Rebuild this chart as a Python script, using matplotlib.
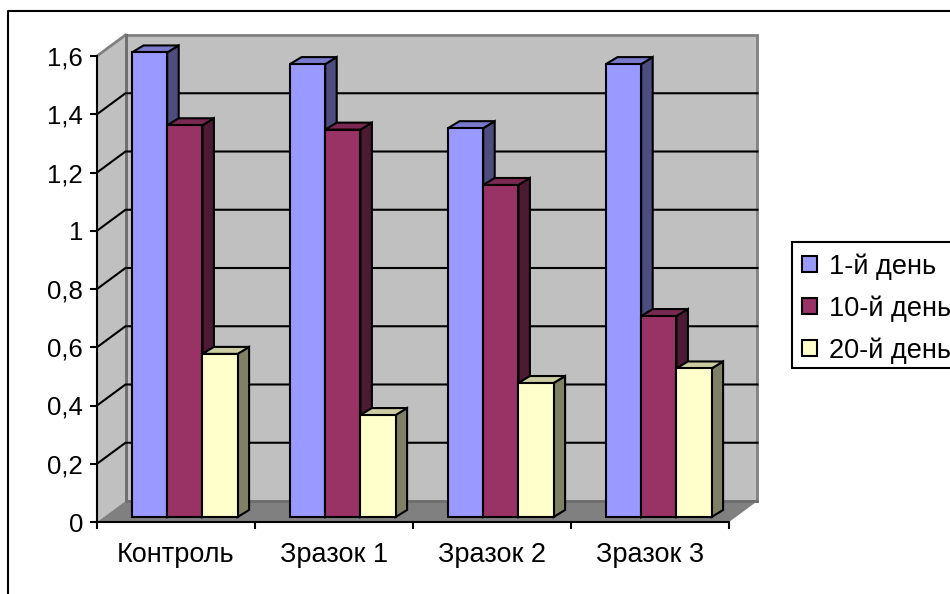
import numpy as np
from matplotlib import pyplot as plt
from matplotlib.lines import Line2D
from matplotlib.patches import Patch, Rectangle

plt.rcParams['font.family'] = ['Liberation Sans', 'DejaVu Sans']

categories = ["Контроль", "Зразок 1", "Зразок 2", "Зразок 3"]
day_1 = [1.595, 1.555, 1.335, 1.555]
day_10 = [1.345, 1.33, 1.14, 0.69]
day_20 = [0.56, 0.35, 0.46, 0.51]
series_names = ["1-й день", "10-й день", "20-й день"]
y_ticks = [0, 0.2, 0.4, 0.6, 0.8, 1, 1.2, 1.4, 1.6]
y_labels = ["0", "0,2", "0,4", "0,6", "0,8", "1", "1,2", "1,4", "1,6"]

front = ['#9999FF', '#993366', '#FFFFCC']
side = ['#4D4D80', '#4D1A33', '#808066']
top = ['#7A7ACC', '#7A2952', '#CCCCA3']

W, H = 950, 594
fig = plt.figure(figsize=(W / 100, H / 100), dpi=100)
ax = fig.add_axes([97 / W, (H - 522) / H, 632 / W, 466 / H])
ax.set_xlim(0, 4)
ax.set_ylim(0, 1.6)
ax.patch.set_visible(False)

# pixel sizes turned into data units for the fake 3d look
px_x = 4 / 632
px_y = 1.6 / 466
wall_dx, wall_dy = 28.5 * px_x, 21 * px_y
shift_x, shift_y = 7 * px_x, 5 * px_y
bar_dx, bar_dy = 11.5 * px_x, 7 * px_y
bar_w = 35.2 * px_x
gap = 28 * px_x

# walls and floor
ax.fill([0, wall_dx, wall_dx, 0], [0, wall_dy, 1.6 + wall_dy, 1.6], color='#C0C0C0', lw=0, clip_on=False, zorder=1)
ax.fill([wall_dx, 4 + wall_dx, 4 + wall_dx, wall_dx], [wall_dy, wall_dy, 1.6 + wall_dy, 1.6 + wall_dy],
        facecolor='#C0C0C0', edgecolor='#808080', lw=2, clip_on=False, zorder=1)
ax.fill([0, wall_dx, 4 + wall_dx, 4], [0, wall_dy, wall_dy, 0], color='#808080', lw=0, clip_on=False, zorder=1)
ax.plot([0, wall_dx], [1.6, 1.6 + wall_dy], color='#808080', lw=2, clip_on=False, zorder=1)
ax.plot([wall_dx, wall_dx, 4 + wall_dx], [1.6 + wall_dy, wall_dy, wall_dy], color='#6E6E6E', lw=2, clip_on=False, zorder=1)

for t in y_ticks[1:-1]:
    ax.plot([0, wall_dx, 4 + wall_dx], [t, t + wall_dy, t + wall_dy], color='black', lw=1.5, clip_on=False, zorder=2)

# bars
z = 3
for g in range(len(categories)):
    for s, vals in enumerate([day_1, day_10, day_20]):
        x0 = g + shift_x + gap + s * bar_w
        x1 = x0 + bar_w
        y0 = shift_y
        y1 = vals[g] + shift_y
        ax.fill([x1, x1 + bar_dx, x1 + bar_dx, x1], [y0, y0 + bar_dy, y1 + bar_dy, y1],
                facecolor=side[s], edgecolor='black', lw=1.5, clip_on=False, zorder=z)
        ax.fill([x0, x1, x1 + bar_dx, x0 + bar_dx], [y1, y1, y1 + bar_dy, y1 + bar_dy],
                facecolor=top[s], edgecolor='black', lw=1.5, clip_on=False, zorder=z)
        ax.bar(x0, vals[g], bar_w, bottom=shift_y, align='edge', color=front[s], edgecolor='black',
               lw=1.5, clip_on=False, zorder=z)
        z += 1

for name in ['top', 'right']:
    ax.spines[name].set_visible(False)
for name in ['left', 'bottom']:
    ax.spines[name].set_linewidth(1.5)
    ax.spines[name].set_zorder(2)

ax.set_yticks(y_ticks)
ax.set_yticklabels(y_labels, fontsize=18.5)
ax.set_xticks(range(5))
ax.set_xticklabels([])
ax.set_xticks(np.arange(len(categories)) + 0.5, categories, minor=True, fontsize=19.5)
ax.tick_params(axis='x', which='major', length=5, width=1.5)
ax.tick_params(axis='x', which='minor', length=0, pad=14.5)
ax.tick_params(axis='y', length=5, width=1.5, pad=5)

# outer chart frame, runs off the picture right and bottom
fig.add_artist(Line2D([7.5 / W, 7.5 / W, 1], [0, (H - 11) / H, (H - 11) / H], color='black', lw=1.5))

# legend box drawn apart, the rows sit a bit low inside it
fig.add_artist(Rectangle((792 / W, (H - 368) / H), 170 / W, 126 / H, facecolor='white', edgecolor='black', lw=1.5))
handles = [Patch(facecolor=c, edgecolor='black', lw=1.5) for c in front]
fig.legend(handles, series_names, loc='lower left', bbox_to_anchor=(794 / W, (H - 372) / H),
           fontsize=19.5, frameon=False,
           handlelength=0.55, handleheight=0.55, handletextpad=0.45,
           labelspacing=0.575, borderpad=0.30, borderaxespad=0)

fig.savefig('out.png', dpi=100)
